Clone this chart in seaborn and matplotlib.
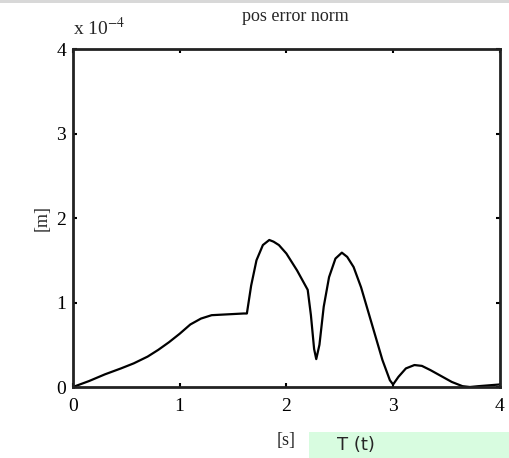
import numpy as np
import pandas as pd
import matplotlib
matplotlib.use("Agg")
import matplotlib.pyplot as plt
import seaborn as sns
from matplotlib.patches import Rectangle

# time [s] and position error norm [x 1e-4 m]
t = [0.0, 0.15, 0.3, 0.45, 0.57, 0.7, 0.8, 0.9, 1.0, 1.1, 1.2, 1.3, 1.45,
     1.6, 1.63, 1.67, 1.72, 1.78, 1.84, 1.88, 1.93, 2.0, 2.1, 2.2, 2.23,
     2.26, 2.28, 2.31, 2.35, 2.4, 2.46, 2.52, 2.57, 2.63, 2.7, 2.8, 2.9,
     2.97, 3.0, 3.05, 3.12, 3.2, 3.27, 3.35, 3.45, 3.55, 3.65, 3.72, 3.8,
     3.9, 4.0]
err = [0.0, 0.07, 0.15, 0.22, 0.28, 0.36, 0.44, 0.53, 0.63, 0.74, 0.81,
       0.85, 0.86, 0.87, 0.87, 1.2, 1.5, 1.68, 1.74, 1.72, 1.68, 1.58, 1.38,
       1.15, 0.85, 0.45, 0.33, 0.5, 0.95, 1.3, 1.52, 1.59, 1.54, 1.42, 1.18,
       0.75, 0.32, 0.08, 0.03, 0.12, 0.22, 0.26, 0.25, 0.2, 0.13, 0.06, 0.01,
       0.0, 0.01, 0.02, 0.03]

df = pd.DataFrame({"t": t, "err": err})

sns.set_theme(style="ticks")
plt.rcParams["font.family"] = ["Liberation Serif", "DejaVu Serif"]
plt.rcParams["mathtext.fontset"] = "stix"

fig = plt.figure(figsize=(5.10, 4.58), dpi=100)
ax = fig.add_axes([0.143, 0.155, 0.837, 0.738])

sns.lineplot(data=df, x="t", y="err", ax=ax, color="black", linewidth=1.6)

ax.set_xlim(0, 4)
ax.set_ylim(0, 4)
ax.set_xticks([0, 1, 2, 3, 4])
ax.set_yticks([0, 1, 2, 3, 4])
ax.tick_params(direction="in", length=3, width=1.5, labelsize=14,
               top=True, right=True, colors="black")
ax.tick_params(axis="x", pad=8)
ax.tick_params(axis="y", pad=5)
for s in ax.spines.values():
    s.set_linewidth(2.0)
    s.set_color("#222222")

ax.set_xlabel("[s]", fontsize=13, labelpad=12)
ax.set_ylabel("[m]", fontsize=13, labelpad=4)
ax.set_title("pos error norm", fontsize=13, pad=20, x=0.52)
fig.text(0.143, 0.924, r"x 10$^{-4}$", fontsize=14, ha="left", va="baseline")

# grey strip and green box cropped into the source image
fig.patches.append(Rectangle((0.0, 0.993), 1.0, 0.007, transform=fig.transFigure,
                             facecolor="#d8d8d8", edgecolor="none"))
fig.patches.append(Rectangle((0.606, 0.0), 0.394, 0.057, transform=fig.transFigure,
                             facecolor="#d8fce0", edgecolor="none"))
fig.text(0.66, 0.008, "T (t)", fontsize=13, family="DejaVu Sans", ha="left", va="bottom")

fig.savefig("out.png", dpi=100)
